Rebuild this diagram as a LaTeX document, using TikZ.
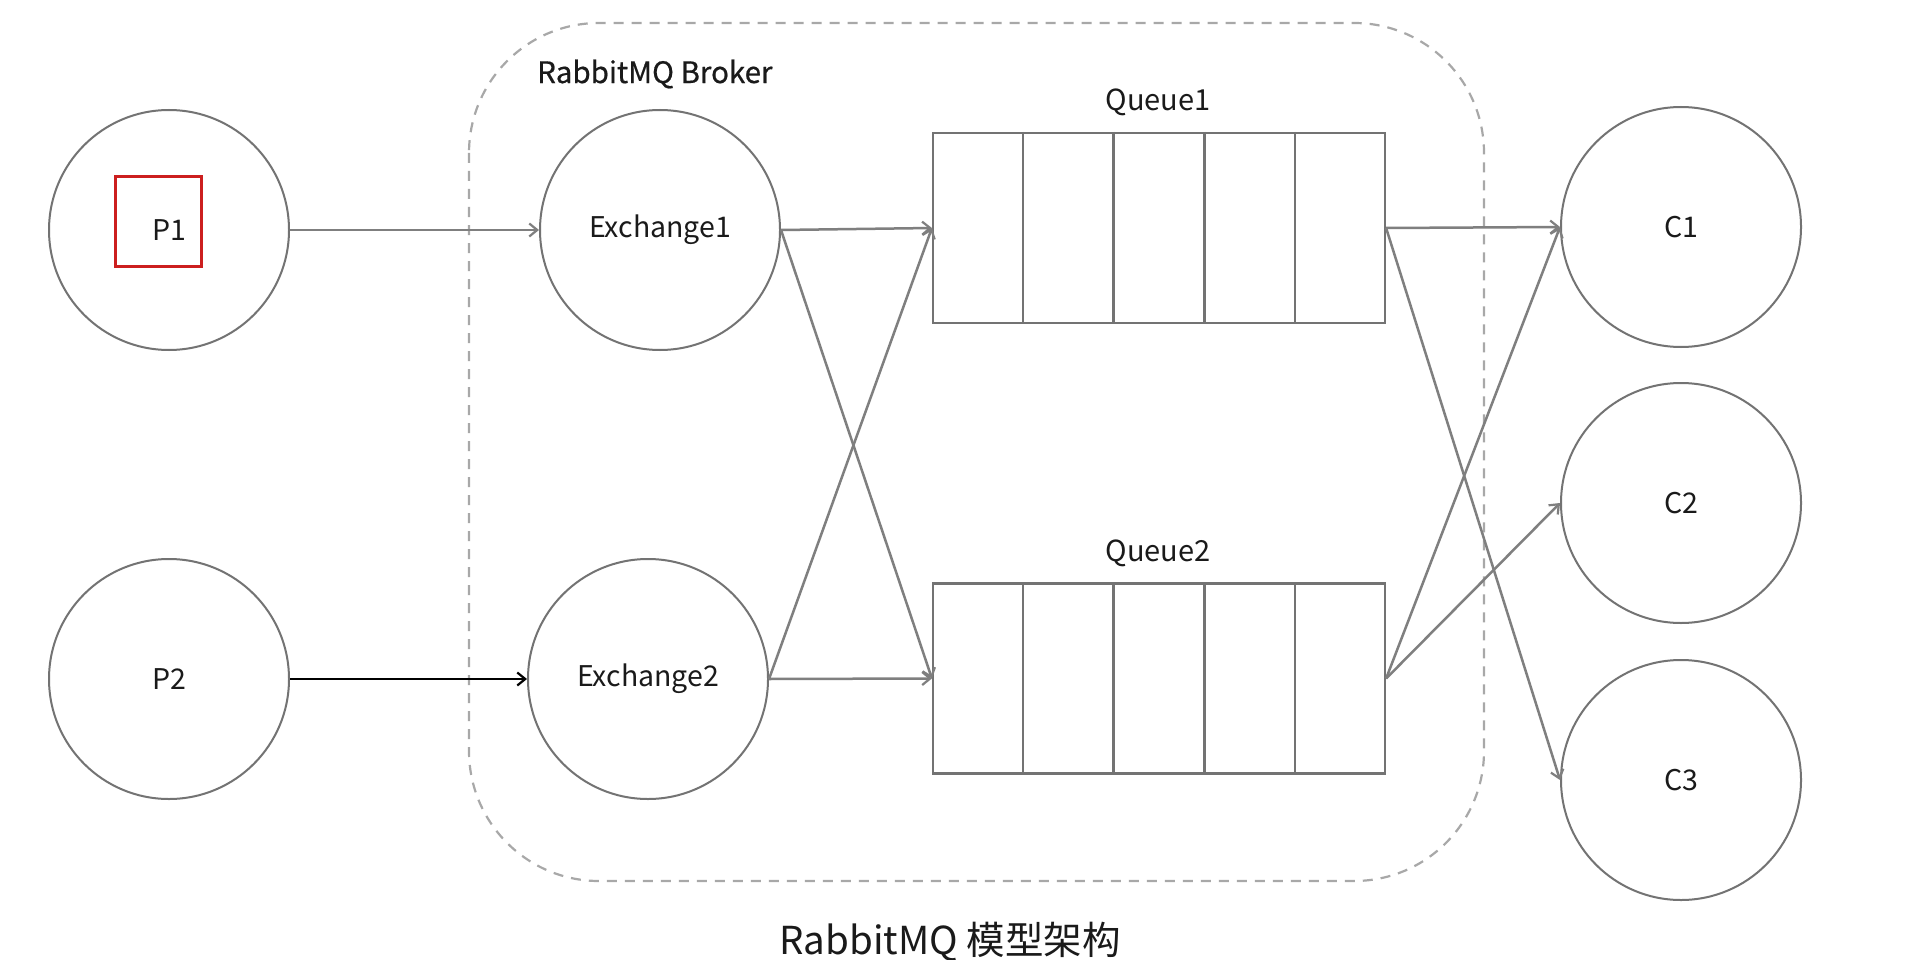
\documentclass[tikz,border=0pt]{standalone}
\usepackage{fontspec}
\setmainfont{Noto Sans CJK SC}
\newfontfamily\brokerfont[FakeBold=0.6]{Noto Sans CJK SC}
\usetikzlibrary{arrows.meta,calc}
\definecolor{circgray}{HTML}{737373}
\definecolor{arrgray}{HTML}{7F7F7F}
\definecolor{dashgray}{HTML}{A8A8A8}
\definecolor{redbox}{HTML}{CC1F1F}
\definecolor{txt}{HTML}{1A1A1A}
\begin{document}
\begin{tikzpicture}[x=1pt,y=-1pt,
  ball/.style={circle, draw=circgray, line width=2pt, minimum size=240pt, inner sep=0pt, text=txt, font=\fontsize{28.5}{32}\selectfont},
  conn/.style={draw=arrgray, line width=2.5pt, -{Straight Barb[length=8pt,width=13pt,line width=2.2pt]}},
  queuebox/.style={draw=circgray, line width=2.2pt, minimum width=452pt, minimum height=190pt, inner sep=0pt},
  divider/.style={draw=circgray, line width=2.2pt},
  lbl/.style={text=txt, font=\fontsize{29}{32}\selectfont, inner sep=0pt}
]
\useasboundingbox (0,0) rectangle (1932,960);
\fill[white] (0,0) rectangle (1932,960);

% broker
\draw[dashgray, line width=2.2pt, dash pattern=on 10pt off 8pt, rounded corners=130pt] (469,23) rectangle (1484,881);
\node[lbl, anchor=west, font=\brokerfont\fontsize{29.5}{32}\selectfont] (broker) at (537,74) {RabbitMQ Broker};

% producers
\node[ball] (p1) at (169,230) {P1};
\node[ball] (p2) at (169,679) {P2};
\draw[redbox, line width=3pt] (115,177) rectangle (201,266);

% exchanges
\node[ball] (e1) at (660,230) {Exchange1};
\node[ball] (e2) at (648,679) {Exchange2};

% queues
\node[queuebox] (q1) at (1159,228) {};
\node[queuebox] (q2) at (1159,678.5) {};
\foreach \q in {q1,q2}{
  \foreach \i in {1,2,3,4}{
    \draw[divider] ($(\q.north west)!\i/5!(\q.north east)$) -- ($(\q.south west)!\i/5!(\q.south east)$);
  }
}
\node[lbl] (q1l) at (1158,102) {Queue1};
\node[lbl] (q2l) at (1158,553) {Queue2};

% consumers
\node[ball] (c1) at (1681,227) {C1};
\node[ball] (c2) at (1681,503) {C2};
\node[ball] (c3) at (1681,780) {C3};

% connectors
\draw[conn] (p1.east) -- (e1.west);
\draw[conn, draw=black] (p2.east) -- (e2.west);
\draw[conn] (e1.east) -- (q1.west);
\draw[conn] (e1.east) -- (q2.west);
\draw[conn] (e2.east) -- (q1.west);
\draw[conn] (e2.east) -- (q2.west);
\draw[conn] (q1.east) -- (c1.west);
\draw[conn] (q1.east) -- (c3.west);
\draw[conn] (q2.east) -- (c1.west);
\draw[conn] (q2.east) -- (c2.west);

% title
\node[text=txt, font=\fontsize{38.5}{42}\selectfont, anchor=base, inner sep=0pt] (title) at (950,954) {RabbitMQ 模型架构};
\end{tikzpicture}
\end{document}
